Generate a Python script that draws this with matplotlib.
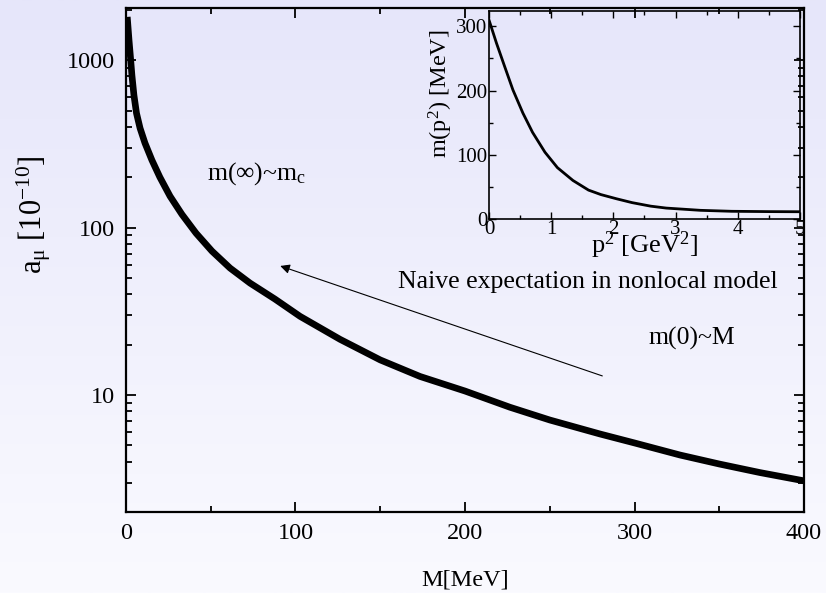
import matplotlib
matplotlib.use("Agg")
import matplotlib.pyplot as plt
import numpy as np

plt.rcParams['font.family'] = ['Liberation Serif', 'DejaVu Serif']
plt.rcParams['mathtext.fontset'] = 'custom'
plt.rcParams['mathtext.rm'] = 'Liberation Serif'
plt.rcParams['mathtext.it'] = 'Liberation Serif:italic'

# main curve: a_mu [1e-10] vs M [MeV]
M_mev = [0.9, 1.8, 2.7, 3.5, 4.7, 6.2, 8.3, 11.2, 15.3, 20, 26, 33, 41.3, 50.7, 61.4,
         73.2, 87.9, 102.7, 126.3, 150, 173.5, 200, 226.5, 250, 279.6, 300, 326.8,
         350, 374, 400]
a_mu = [1733, 1316, 1028, 814, 618, 483, 393, 320, 253, 200, 154, 120, 92.7, 72.4, 57.3,
        46.6, 37.4, 29.5, 21.5, 16.2, 12.9, 10.56, 8.45, 7.09, 5.85, 5.17, 4.38,
        3.87, 3.44, 3.07]

# inset: running mass m(p^2) [MeV] vs p^2 [GeV^2]
p2 = [0.0, 0.12, 0.25, 0.385, 0.545, 0.7, 0.9, 1.1, 1.35, 1.6, 1.8, 2.05, 2.3, 2.6,
      2.85, 3.4, 3.9, 4.5, 5.0]
m_p2 = [310, 274, 238, 201, 165, 135, 104, 80, 60, 45, 38, 31.5, 25.5, 20,
        17, 13.5, 12, 11.5, 11.3]

# arrow "naive expectation"
arrow_tail = (281, 13.0)
arrow_head = (91, 59)

fig = plt.figure(figsize=(8.26, 5.93), dpi=100)

# background gradient
bg = fig.add_axes([0, 0, 1, 1], zorder=-10)
top = np.array([230, 230, 250]) / 255.
bot = np.array([250, 250, 255]) / 255.
t = np.linspace(0, 1, 256)[:, None]
grad = top[None, :] * (1 - t) + bot[None, :] * t
bg.imshow(grad[:, None, :], aspect='auto', extent=[0, 1, 0, 1])
bg.axis('off')

ax = fig.add_axes([0.1525, 0.1366, 0.8209, 0.8499])
ax.set_facecolor('none')
ax.plot(M_mev, a_mu, color='black', lw=4.8, solid_joinstyle='round')
ax.set_yscale('log')
ax.set_xlim(0, 400)
ax.set_ylim(2, 2050)
ax.set_xticks([0, 100, 200, 300, 400])
ax.set_xticks([50, 150, 250, 350], minor=True)
ax.set_yticks([10, 100, 1000])
ax.set_yticklabels(['10', '100', '1000'])
ax.tick_params(which='both', direction='in', top=True, right=True, labelsize=17.5, width=1.3)
ax.tick_params(which='major', length=7, pad=8)
ax.tick_params(which='minor', length=4)
for s in ax.spines.values():
    s.set_linewidth(1.6)
ax.set_xlabel('M[MeV]', fontsize=17.5, labelpad=18)
ax.set_ylabel(r'a$_{\mathrm{μ}}$ [10$^{\mathrm{-10}}$]', fontsize=22)
ax.yaxis.set_label_coords(-0.107, 0.59)

ax.text(0.1195, 0.671, r'm(∞)~m$_{\mathrm{c}}$', transform=ax.transAxes, fontsize=18.5, va='center')
ax.text(0.401, 0.456, 'Naive expectation in nonlocal model', transform=ax.transAxes,
        fontsize=18.5, va='center')
ax.text(0.770, 0.345, 'm(0)~M', transform=ax.transAxes, fontsize=18.5, va='center')
ax.annotate('', xy=arrow_head, xytext=arrow_tail,
            arrowprops=dict(arrowstyle='-|>', color='black', lw=0.8,
                            mutation_scale=14, shrinkA=0, shrinkB=0))

# inset
ins = fig.add_axes([0.592, 0.6307, 0.3765, 0.3508])
ins.set_facecolor('none')
ins.plot(p2, m_p2, color='black', lw=2)
ins.set_xlim(0, 5)
ins.set_ylim(0, 324)
ins.set_xticks([0, 1, 2, 3, 4, 5])
ins.set_xticks(np.arange(0.5, 5, 1), minor=True)
ins.set_yticks([0, 100, 200, 300])
ins.set_yticks([50, 150, 250], minor=True)
ins.tick_params(which='both', direction='in', top=True, right=True, labelsize=15, width=1.0)
ins.tick_params(which='major', length=5, pad=1)
ins.tick_params(which='minor', length=3)
for s in ins.spines.values():
    s.set_linewidth(1.2)
ins.set_xlabel(r'p$^{\mathrm{2}}$ [GeV$^{\mathrm{2}}$]', fontsize=19, labelpad=-7)
ins.set_ylabel(r'm(p$^{\mathrm{2}}$) [MeV]', fontsize=17.5)
ins.yaxis.set_label_coords(-0.11, 0.6)

fig.savefig('out.png', dpi=100)
